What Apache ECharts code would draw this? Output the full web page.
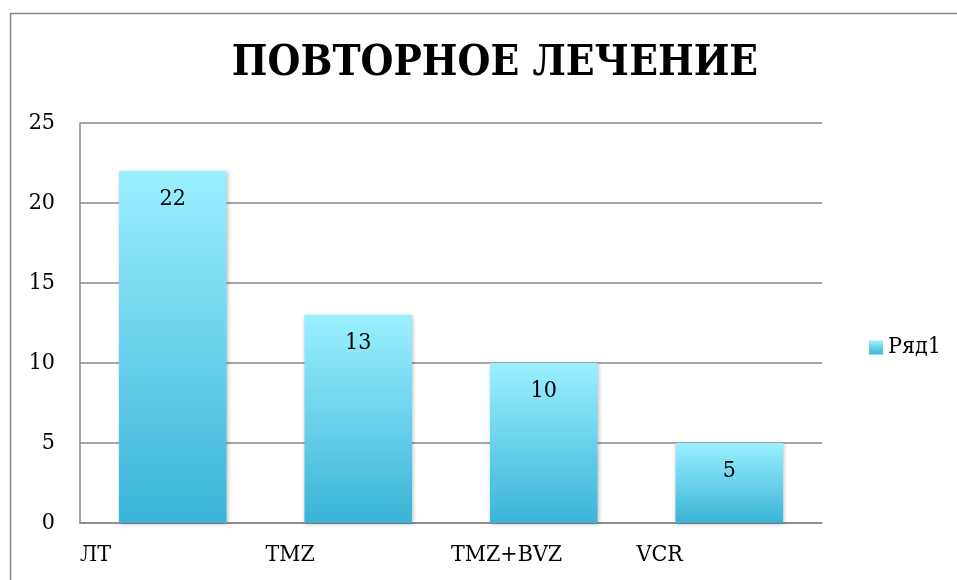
<!DOCTYPE html>
<html><head><meta charset="utf-8">
<script src="https://cdn.jsdelivr.net/npm/echarts@6/dist/echarts.min.js"></script>
<style>html,body{margin:0;padding:0;background:#fff}#c{width:957px;height:580px}</style>
</head><body><div id="c"></div>
<script>
var titleText = 'ПОВТОРНОЕ ЛЕЧЕНИЕ';
var categories = ['ЛТ', 'TMZ', 'TMZ+BVZ', 'VCR'];
var seriesName = 'Ряд1';
var values = [22, 13, 10, 5];
var yTicks = {min: 0, max: 25, interval: 5};

var FONT = '"DejaVu Serif Condensed", "DejaVu Serif", serif';
var grad = new echarts.graphic.LinearGradient(0, 0, 0, 1, [
  {offset: 0, color: '#9BEFFF'},
  {offset: 1, color: '#3AB4D8'}
]);
var chart = echarts.init(document.getElementById('c'), null, {renderer: 'canvas'});
chart.setOption({
  animation: false,
  backgroundColor: '#fff',
  graphic: [{type: 'rect', shape: {x: 10.5, y: 13.5, width: 980, height: 600}, style: {fill: 'none', stroke: '#888', lineWidth: 1.5}, silent: true}],
  title: {text: titleText, left: 490, textAlign: 'center', top: 38,
    textStyle: {fontFamily: FONT, fontWeight: 'bold', fontSize: 42, color: '#000'}},
  legend: {data: [seriesName], orient: 'vertical', left: 864, top: 331, itemWidth: 14, itemHeight: 14, itemGap: 8,
    textStyle: {fontFamily: FONT, fontSize: 23, color: '#000'}, icon: 'rect'},
  grid: {left: 80, right: 135, top: 123, bottom: 57},
  xAxis: [{
    type: 'category', data: categories,
    axisLine: {show: true, lineStyle: {color: '#888', width: 1.5}},
    axisTick: {show: false}, axisLabel: {show: false}
  }, {
    type: 'category', data: categories.concat(['']), boundaryGap: false, position: 'bottom',
    axisLine: {show: false}, axisTick: {show: false}, splitLine: {show: false},
    axisLabel: {show: true, interval: 0, align: 'left', margin: 21, fontFamily: FONT, fontSize: 23, color: '#000'}
  }],
  yAxis: {
    type: 'value', min: yTicks.min, max: yTicks.max, interval: yTicks.interval,
    axisLine: {show: true, lineStyle: {color: '#888', width: 1.5}},
    axisTick: {show: false},
    splitLine: {lineStyle: {color: '#888', width: 1.5}},
    axisLabel: {margin: 25, fontFamily: FONT, fontSize: 23, color: '#000'}
  },
  series: [{
    name: seriesName, type: 'bar', data: values, xAxisIndex: 0, barWidth: '58%',
    itemStyle: {color: grad, shadowBlur: 4, shadowColor: 'rgba(0,0,0,0.25)', shadowOffsetX: 1, shadowOffsetY: 1},
    label: {show: true, position: 'insideTop', distance: 17, fontFamily: FONT, fontSize: 23, color: '#000'}
  }]
});
</script></body></html>
